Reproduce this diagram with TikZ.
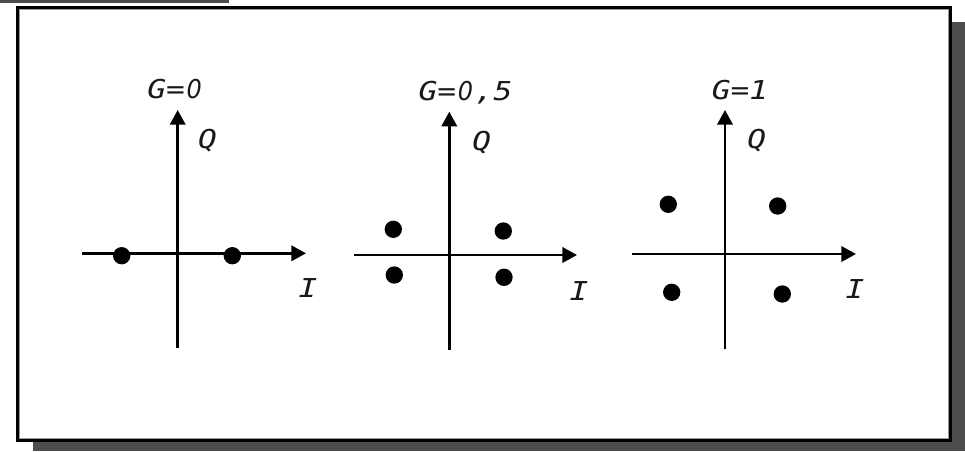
\documentclass[tikz,border=0pt]{standalone}
\usepackage{fontspec}
\newfontfamily\lblfont[FakeStretch=1.2]{DejaVu Sans Mono}
\newfontfamily\zerofont[FakeStretch=0.92]{DejaVu Sans}
\newcommand{\plainzero}{\makebox[0.7224em][c]{\zerofont\itshape 0}}
\usetikzlibrary{arrows.meta}
\definecolor{shadowgray}{HTML}{4D4D4D}
\begin{document}
\begin{tikzpicture}[x=0.75pt,y=-0.75pt,
  axis/.style={line width=2pt,-{Triangle[length=11pt,width=11.5pt]}},
  dot/.style={circle,fill=black,inner sep=0pt,minimum size=13pt},
  lbl/.style={font=\lblfont\itshape\fontsize{19.5}{19.5}\selectfont,text=black!90,inner sep=0pt,anchor=base}]
\useasboundingbox (0,0) rectangle (965,451);
% shadow and frame
\fill[shadowgray] (33,22) rectangle (965,451);
\fill[shadowgray] (0,0) rectangle (229,3);
\draw[line width=2.25pt,fill=white] (17.5,7.5) rectangle (950.5,440.5);
\draw[black!40,line width=0.75pt] (19.5,9.5) rectangle (948.5,438.5);
% diagram 1: G=0
\coordinate (h1l) at (82,253.3);
\coordinate (h1r) at (306,253.3);
\coordinate (v1b) at (177.7,348);
\coordinate (v1t) at (177.7,110);
\draw[axis] (h1l) -- (h1r);
\draw[axis] (v1b) -- (v1t);
\node[dot] (d1a) at (121.7,255.7) {};
\node[dot] (d1b) at (232.3,255.7) {};
\node[lbl] (g1) at (175.5,98.5) {G=\plainzero};
\node[lbl] (q1) at (207.5,148) {Q};
\node[lbl] (i1) at (308,297) {I};
% diagram 2: G=0,5
\coordinate (h2l) at (354,255);
\coordinate (h2r) at (577,255);
\coordinate (v2b) at (449.3,350);
\coordinate (v2t) at (449.3,111.7);
\draw[axis] (h2l) -- (h2r);
\draw[axis] (v2b) -- (v2t);
\node[dot] (d2a) at (393.3,229.3) {};
\node[dot] (d2b) at (503.3,231) {};
\node[dot] (d2c) at (394.3,275) {};
\node[dot] (d2d) at (504,277.3) {};
\node[lbl] (g2) at (465.5,100) {G=\plainzero,5};
\node[lbl] (q2) at (481.7,150) {Q};
\node[lbl] (i2) at (579,300) {I};
% diagram 3: G=1
\coordinate (h3l) at (631.7,254);
\coordinate (h3r) at (856,254);
\coordinate (v3b) at (725,349);
\coordinate (v3t) at (725,110);
\draw[axis] (h3l) -- (h3r);
\draw[axis] (v3b) -- (v3t);
\node[dot] (d3a) at (668.3,204.3) {};
\node[dot] (d3b) at (777.7,206) {};
\node[dot] (d3c) at (671.7,292.3) {};
\node[dot] (d3d) at (782.3,294) {};
\node[lbl] (g3) at (740,99) {G=1};
\node[lbl] (q3) at (756.7,148) {Q};
\node[lbl] (i3) at (855,298) {I};
\end{tikzpicture}
\end{document}
